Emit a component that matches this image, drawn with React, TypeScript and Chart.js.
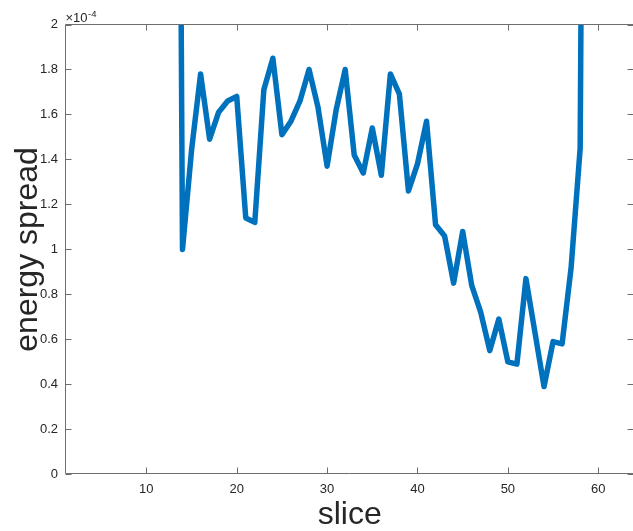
import React, { useEffect, useRef } from "react";
import { Chart, registerables } from "chart.js";

Chart.register(...registerables);

// ---- data ----
const slices = [
  13, 14, 15, 16, 17, 18, 19, 20, 21, 22, 23, 24, 25, 26, 27, 28, 29, 30, 31,
  32, 33, 34, 35, 36, 37, 38, 39, 40, 41, 42, 43, 44, 45, 46, 47, 48, 49, 50,
  51, 52, 53, 54, 55, 56, 57, 58, 59,
];
// energy spread in units of 1e-4
const spread = [
  8.0, 1.0, 1.44, 1.78, 1.49, 1.61, 1.66, 1.68, 1.14, 1.12, 1.71, 1.85, 1.51,
  1.57, 1.66, 1.8, 1.63, 1.37, 1.62, 1.8, 1.42, 1.34, 1.54, 1.33, 1.78, 1.69,
  1.26, 1.38, 1.57, 1.11, 1.06, 0.85, 1.08, 0.84, 0.72, 0.55, 0.69, 0.5, 0.49,
  0.87, 0.63, 0.39, 0.59, 0.58, 0.92, 1.45, 8.0,
];
const xTicks = [10, 20, 30, 40, 50, 60];
const yTicks = [0, 0.2, 0.4, 0.6, 0.8, 1, 1.2, 1.4, 1.6, 1.8, 2];
const yTickLabels = ["0", "0.2", "0.4", "0.6", "0.8", "1", "1.2", "1.4", "1.6", "1.8", "2"];
const xLabel = "slice";
const yLabel = "energy spread";
const exponentBase = "×10";
const exponentPower = "-4";

const FONT = '"Liberation Sans", Arial, Helvetica, sans-serif';
const TEXT = "#262626";
const AXIS = "#6e6e6e";

const boxPlugin = {
  id: "matlabBox",
  afterDatasetsDraw(chart: any) {
    const { ctx, chartArea } = chart;
    const { left, right, top, bottom } = chartArea;
    const xs = chart.scales.x;
    const ys = chart.scales.y;
    const tl = 6;
    ctx.save();
    ctx.strokeStyle = AXIS;
    ctx.lineWidth = 1;
    const L = Math.round(left) + 0.5;
    const R = Math.round(right) - 0.5;
    const T = Math.round(top - 0.5) + 0.5;
    const B = Math.round(bottom) - 0.5;
    ctx.beginPath();
    ctx.rect(L, T, R - L, B - T);
    ctx.stroke();
    ctx.beginPath();
    xTicks.forEach((v) => {
      const p = Math.round(xs.getPixelForValue(v)) + 0.5;
      ctx.moveTo(p, B);
      ctx.lineTo(p, B - tl);
      ctx.moveTo(p, T);
      ctx.lineTo(p, T + tl);
    });
    yTicks.forEach((v) => {
      const p = Math.round(ys.getPixelForValue(v)) + 0.5;
      ctx.moveTo(L, p);
      ctx.lineTo(L + tl, p);
      ctx.moveTo(R, p);
      ctx.lineTo(R - tl, p);
    });
    ctx.stroke();
    ctx.restore();
  },
  afterDraw(chart: any) {
    const { ctx, chartArea } = chart;
    ctx.save();
    ctx.fillStyle = TEXT;
    ctx.textBaseline = "alphabetic";
    ctx.textAlign = "left";
    ctx.font = `13px ${FONT}`;
    const x0 = chartArea.left + 0.5;
    ctx.fillText(exponentBase, x0, 21.5);
    const w = ctx.measureText(exponentBase).width;
    ctx.font = `9.5px ${FONT}`;
    ctx.fillText(exponentPower, x0 + w + 0.5, 16.5);
    ctx.restore();
  },
};

export default function App() {
  const ref = useRef<HTMLCanvasElement | null>(null);
  useEffect(() => {
    if (!ref.current) return;
    const chart = new Chart(ref.current, {
      type: "line",
      data: {
        datasets: [
          {
            data: slices.map((s, i) => ({ x: s, y: spread[i] })),
            borderColor: "#0072BD",
            backgroundColor: "#0072BD",
            borderWidth: 5.5,
            borderJoinStyle: "round",
            borderCapStyle: "round",
            pointRadius: 0,
            pointHoverRadius: 0,
            tension: 0,
            fill: false,
            clip: 0,
          } as any,
        ],
      },
      options: {
        animation: false,
        responsive: false,
        maintainAspectRatio: false,
        events: [],
        layout: { padding: { left: 0, right: 5.6, top: 24.5, bottom: 0 } },
        plugins: { legend: { display: false }, tooltip: { enabled: false } },
        scales: {
          x: {
            type: "linear",
            min: 1,
            max: 64,
            afterBuildTicks: (s: any) => {
              s.ticks = xTicks.map((v) => ({ value: v }));
            },
            afterFit: (s: any) => {
              s.height = 56.7;
            },
            grid: { display: false, drawTicks: false },
            border: { display: false },
            ticks: {
              padding: 7,
              color: TEXT,
              autoSkip: false,
              maxRotation: 0,
              font: { family: FONT, size: 13 },
              callback: (v: any) => String(v),
            },
            title: {
              display: true,
              text: xLabel,
              color: TEXT,
              font: { family: FONT, size: 32, lineHeight: 1 },
              padding: { top: 0, bottom: 0 },
            },
          },
          y: {
            type: "linear",
            min: 0,
            max: 2,
            afterBuildTicks: (s: any) => {
              s.ticks = yTicks.map((v) => ({ value: v }));
            },
            afterFit: (s: any) => {
              s.width = 65;
            },
            grid: { display: false, drawTicks: false },
            border: { display: false },
            ticks: {
              padding: 7,
              color: TEXT,
              autoSkip: false,
              font: { family: FONT, size: 13 },
              callback: (_v: any, i: number) => yTickLabels[i],
            },
            title: {
              display: true,
              text: yLabel,
              color: TEXT,
              font: { family: FONT, size: 32, lineHeight: 1 },
              padding: { top: 12, bottom: 0 },
            },
          },
        },
      },
      plugins: [boxPlugin],
    });
    return () => chart.destroy();
  }, []);
  return (
    <div
      style={{
        position: "fixed",
        left: 0,
        top: 0,
        width: 640,
        height: 531,
        overflow: "hidden",
        background: "#fff",
      }}
    >
      <canvas ref={ref} width={640} height={531} style={{ display: "block", width: 640, height: 531 }} />
    </div>
  );
}
